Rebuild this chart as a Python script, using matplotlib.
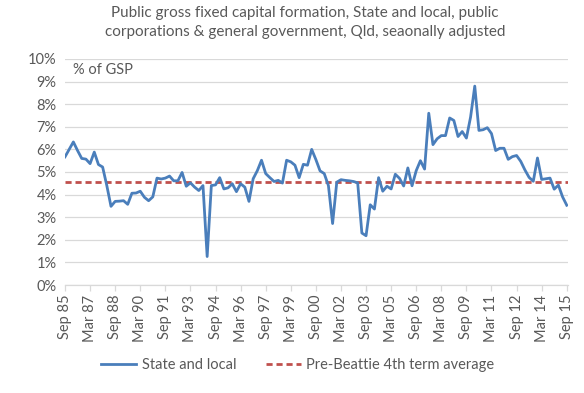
import matplotlib
matplotlib.use("Agg")
import matplotlib.pyplot as plt
import numpy as np

plt.rcParams['font.family'] = ['Lato', 'DejaVu Sans']

# quarterly, Sep 85 .. Sep 15, % of GSP
state_local = [
    5.67, 6.00, 6.33, 5.95, 5.60, 5.57, 5.37, 5.88, 5.33, 5.22,
    4.40, 3.48, 3.70, 3.71, 3.73, 3.57, 4.06, 4.07, 4.15, 3.88,
    3.73, 3.90, 4.73, 4.69, 4.73, 4.82, 4.61, 4.61, 4.98, 4.37,
    4.52, 4.33, 4.18, 4.40, 1.26, 4.40, 4.43, 4.75, 4.25, 4.30,
    4.48, 4.13, 4.48, 4.33, 3.70, 4.70, 5.06, 5.52, 4.93, 4.75,
    4.58, 4.63, 4.51, 5.52, 5.45, 5.30, 4.75, 5.34, 5.30, 6.00,
    5.55, 5.05, 4.93, 4.40, 2.72, 4.55, 4.66, 4.63, 4.61, 4.58,
    4.52, 2.30, 2.18, 3.55, 3.36, 4.75, 4.15, 4.37, 4.25, 4.90,
    4.72, 4.38, 5.18, 4.39, 5.06, 5.50, 5.13, 7.60, 6.21, 6.47,
    6.61, 6.61, 7.39, 7.28, 6.57, 6.79, 6.50, 7.43, 8.80, 6.84,
    6.87, 6.96, 6.70, 5.95, 6.05, 6.05, 5.56, 5.68, 5.73, 5.47,
    5.09, 4.76, 4.59, 5.62, 4.67, 4.70, 4.73, 4.24, 4.42, 3.90,
    3.53,
]
pre_beattie_avg = 4.55

tick_labels = ['Sep 85', 'Mar 87', 'Sep 88', 'Mar 90', 'Sep 91', 'Mar 93',
               'Sep 94', 'Mar 96', 'Sep 97', 'Mar 99', 'Sep 00', 'Mar 02',
               'Sep 03', 'Mar 05', 'Sep 06', 'Mar 08', 'Sep 09', 'Mar 11',
               'Sep 12', 'Mar 14', 'Sep 15']

txt = '#595959'
grid = '#D9D9D9'

fig = plt.figure(figsize=(5.84, 3.93), dpi=100)
ax = fig.add_axes([0.1113, 0.2748, 0.8613, 0.5751])

x = np.arange(len(state_local))
ax.plot(x, state_local, color='#4A7EBB', lw=2.0, label='State and local', zorder=3)
ax.axhline(pre_beattie_avg, color='#C0504D', lw=2.0, ls=(0, (2.2, 1.4)),
           label='Pre-Beattie 4th term average', zorder=2)

ax.set_xlim(0, len(state_local) - 1 + 0.3)
ax.set_ylim(0, 10)
ax.set_yticks(np.arange(0, 11, 1))
ax.set_yticklabels([f'{v}%' for v in range(11)])
ax.set_xticks(np.arange(0, len(state_local), 6))
ax.set_xticklabels(tick_labels, rotation=90)

ax.grid(axis='y', color=grid, lw=0.9)
ax.set_axisbelow(True)
for s in ['top', 'right', 'left']:
    ax.spines[s].set_visible(False)
ax.spines['bottom'].set_color(grid)
ax.spines['bottom'].set_linewidth(0.9)
ax.tick_params(axis='y', length=0, labelsize=10.5, colors=txt, pad=6)
ax.tick_params(axis='x', length=4, width=0.9, color=grid, labelsize=10.5,
               labelcolor=txt, pad=3)

ax.text(0.016, 0.951, '% of GSP', transform=ax.transAxes, fontsize=10.5,
        color=txt, va='center', ha='left')

fig.text(0.522, 0.985, 'Public gross fixed capital formation, State and local, public\n'
         'corporations & general government, Qld, seaonally adjusted',
         ha='center', va='top', fontsize=11, color=txt, linespacing=1.45)

fig.legend(loc='center', bbox_to_anchor=(0.51, 0.072), ncol=2, frameon=False,
           fontsize=10.5, labelcolor=txt, handlelength=2.4, columnspacing=2.0,
           handletextpad=0.4)

fig.savefig('out.png', dpi=100)
